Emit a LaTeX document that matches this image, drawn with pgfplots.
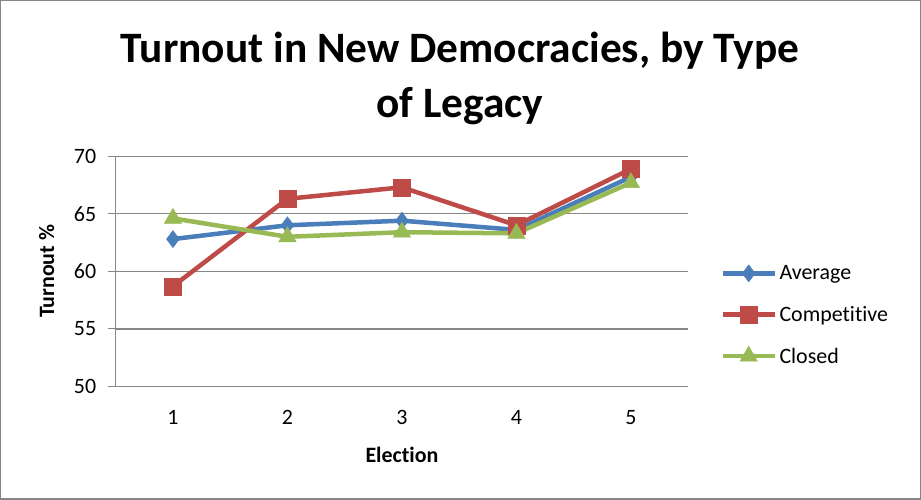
\documentclass[border=0pt]{standalone}
\usepackage{pgfplots}
\pgfplotsset{compat=1.18}
\usepackage{fontspec}
\setmainfont{Carlito}[Ligatures=NoCommon]
\definecolor{cBlue}{HTML}{4A7EBB}
\definecolor{cRed}{HTML}{BE4B48}
\definecolor{cGreen}{HTML}{98B954}
\definecolor{cGrid}{HTML}{868686}
\begin{document}
\begin{tikzpicture}[x=1bp,y=1bp]
\begin{axis}[
  at={(0,0)}, anchor=origin,
  scale only axis, width=572bp, height=230bp,
  xmin=0.5, xmax=5.5, ymin=50, ymax=70,
  axis x line*=bottom, axis y line*=left,
  axis line style={draw=cGrid, line width=1.5bp},
  xtick={1,2,3,4,5}, ytick={50,55,60,65,70},
  x tick style={draw=none},
  y tick style={draw=cGrid, line width=1.2bp},
  major tick length=8bp, tick align=outside,
  ymajorgrids, grid style={draw=cGrid, line width=1.3bp},
  /pgf/number format/assume math mode=true,
  tick label style={font=\fontsize{22}{26}\selectfont},
  xticklabel style={yshift=-12bp},
  yticklabel style={xshift=-8bp},
  xlabel={Election},
  xlabel style={at={([yshift=-68bp]rel axis cs:0.5,0)}, anchor=center, font=\bfseries\fontsize{22}{26}\selectfont},
  ylabel={Turnout \%},
  ylabel style={at={([xshift=-69bp]rel axis cs:0,0.5)}, anchor=center, font=\bfseries\fontsize{22}{26}\selectfont},
  legend style={at={(rel axis cs:1.056,0.31)}, anchor=west, draw=none, fill=none,
    font=\fontsize{22}{26}\selectfont, row sep=20bp, inner sep=0pt,
    nodes={inner sep=2.5bp}},
  legend cell align=left,
  legend image code/.code={\draw[mark repeat=2,mark phase=2,#1] plot coordinates {(0bp,0bp) (26bp,0bp) (52bp,0bp)};},
  clip=false,
]
\addplot[cBlue, line width=4.5bp, mark=diamond*, mark size=8.5bp, mark options={solid, fill=cBlue, draw=cBlue, line width=0.5bp}]
  coordinates {(1,62.8) (2,64.0) (3,64.4) (4,63.6) (5,68.2)};
\addlegendentry{Average}
\addplot[cRed, line width=4.5bp, mark=square*, mark size=8.5bp, mark options={solid, fill=cRed, draw=cRed, line width=0.5bp}]
  coordinates {(1,58.7) (2,66.3) (3,67.3) (4,64.0) (5,68.9)};
\addlegendentry{Competitive}
\addplot[cGreen, line width=4.5bp, mark=triangle*, mark size=10bp, mark options={solid, fill=cGreen, draw=cGreen, line width=0.5bp}]
  coordinates {(1,64.6) (2,63.0) (3,63.4) (4,63.3) (5,67.7)};
\addlegendentry{Closed}
\end{axis}
\draw[cGrid, line width=1.2bp] (-115,-112.5) rectangle (804,385.5);
\node[anchor=base, font=\bfseries\fontsize{43.5}{53}\selectfont] at (344,323.5) {Turnout in New Democracies, by Type};
\node[anchor=base, font=\bfseries\fontsize{43.5}{53}\selectfont] at (344,268.5) {of Legacy};
\end{tikzpicture}
\end{document}
